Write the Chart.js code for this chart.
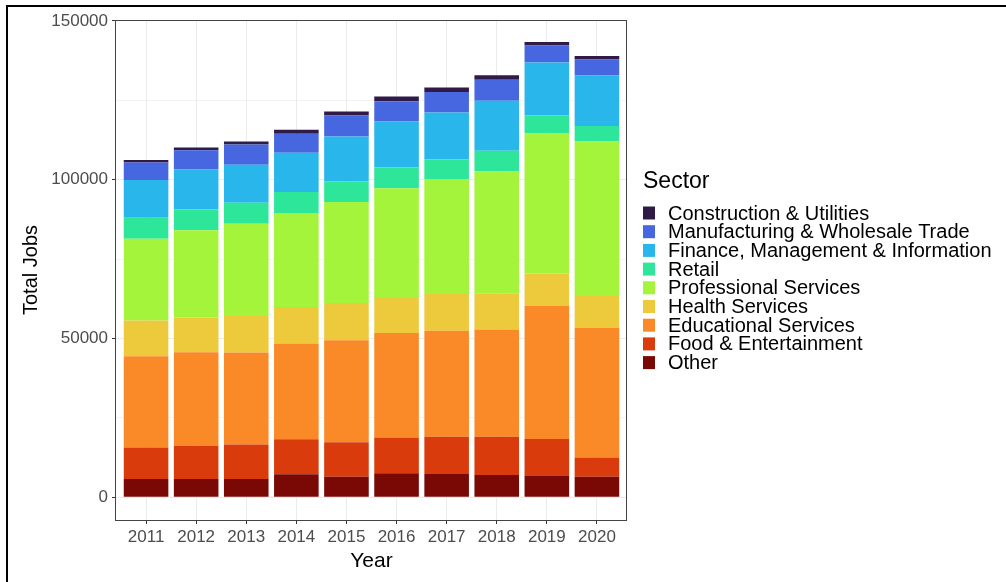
<!DOCTYPE html>
<html>
<head>
<meta charset="utf-8">
<title>Total Jobs by Sector</title>
<script src="https://cdn.jsdelivr.net/npm/chart.js@4.4.1/dist/chart.umd.min.js"></script>
<style>
	html, body { margin: 0; padding: 0; background: #fff; }
	canvas { display: block; }
</style>
</head>
<body>
<canvas id="myChart" width="1006" height="582"></canvas>
<script>
// Years on the x axis
const years = [2011, 2012, 2013, 2014, 2015, 2016, 2017, 2018, 2019, 2020];

// Jobs per sector (bottom of the stack first)
const other = [5750, 5750, 5750, 7250, 6500, 7550, 7350, 7000, 6700, 6500];
const food = [9950, 10500, 10900, 11000, 10800, 11300, 11750, 12050, 11650, 6000];
const educational = [28700, 29400, 28950, 30200, 32150, 32900, 33350, 33750, 41850, 40900];
const health = [11300, 11000, 11500, 11500, 11750, 11300, 11550, 11300, 10300, 9950];
const professional = [25700, 27450, 29050, 29550, 31750, 34300, 36050, 38550, 44050, 48750];
const retail = [6600, 6600, 6600, 6600, 6600, 6600, 6400, 6500, 5750, 4800];
const finance = [11950, 12600, 11950, 12400, 14050, 14450, 14700, 15700, 16600, 15950];
const manufacturing = [5450, 6000, 6400, 6000, 6600, 6300, 6500, 6600, 5350, 5050];
const construction = [850, 850, 950, 1250, 1250, 1500, 1400, 1450, 1150, 1050];

// y axis ticks (labelled ones every 50000, minor grid in between)
const yTicks = [0, 25000, 50000, 75000, 100000, 125000, 150000];

const font = "'Liberation Sans', Arial, sans-serif";

const datasets = [
	{ label: "Other", data: other, backgroundColor: "#7a0805" },
	{ label: "Food & Entertainment", data: food, backgroundColor: "#d93b0c" },
	{ label: "Educational Services", data: educational, backgroundColor: "#fa8a27" },
	{ label: "Health Services", data: health, backgroundColor: "#edc93c" },
	{ label: "Professional Services", data: professional, backgroundColor: "#a3f43a" },
	{ label: "Retail", data: retail, backgroundColor: "#2de69a" },
	{ label: "Finance, Management & Information", data: finance, backgroundColor: "#29b6ea" },
	{ label: "Manufacturing & Wholesale Trade", data: manufacturing, backgroundColor: "#4667e0" },
	{ label: "Construction & Utilities", data: construction, backgroundColor: "#2f1a48" },
];
for (const ds of datasets) {
	ds.borderWidth = 0;
	ds.categoryPercentage = 1;
	ds.barPercentage = 0.89;
}

// legend on the right, top sector first
const sectorLegend = {
	id: "sectorLegend",
	afterDraw(chart) {
		const ctx = chart.ctx;
		ctx.save();
		ctx.textBaseline = "middle";
		ctx.fillStyle = "#000";
		ctx.font = "23px " + font;
		ctx.fillText("Sector", 643, 182);
		ctx.font = "20px " + font;
		const items = chart.data.datasets.slice().reverse();
		items.forEach((ds, i) => {
			const y = 213 + i * 18.7;
			ctx.fillStyle = ds.backgroundColor;
			ctx.fillRect(643, y - 6.5, 12, 13);
			ctx.fillStyle = "#000";
			ctx.fillText(ds.label, 668, y + 1);
		});
		ctx.restore();
	},
};

// panel border and the outer frame of the figure
const frame = {
	id: "frame",
	afterDatasetsDraw(chart) {
		const { left, top, right, bottom } = chart.chartArea;
		const ctx = chart.ctx;
		ctx.save();
		ctx.strokeStyle = "#444";
		ctx.lineWidth = 1;
		ctx.strokeRect(Math.round(left) - 0.5, Math.round(top) + 0.5, right - left, bottom - top);
		ctx.fillStyle = "#000";
		ctx.fillRect(6, 5, 1000, 2);
		ctx.fillRect(6, 5, 2, 577);
		ctx.restore();
	},
};

const ctx = document.getElementById("myChart").getContext("2d");
const myChart = new Chart(ctx, {
	type: "bar",
	data: {
		labels: years,
		datasets: datasets,
	},
	options: {
		responsive: false,
		animation: false,
		layout: { padding: { left: 0, top: 20, right: 379, bottom: 0 } },
		plugins: {
			legend: { display: false },
			tooltip: { enabled: false },
		},
		scales: {
			x: {
				type: "linear",
				stacked: true,
				offset: false,
				min: 2010.4,
				max: 2020.6,
				afterBuildTicks: (scale) => {
					scale.ticks = years.map((v) => ({ value: v }));
				},
				afterFit: (scale) => {
					scale.height = 62;
				},
				grid: {
					offset: false,
					color: "#ebebeb",
					lineWidth: 1,
					tickColor: "#333",
					tickLength: 4,
					drawTicks: true,
				},
				border: { display: false },
				ticks: {
					color: "#4d4d4d",
					font: { family: font, size: 17 },
					padding: 3,
					maxRotation: 0,
					autoSkip: false,
					callback: (v) => String(v),
				},
				title: {
					display: true,
					text: "Year",
					color: "#000",
					font: { family: font, size: 21 },
					padding: { top: 0, bottom: 8 },
				},
			},
			y: {
				stacked: true,
				min: -7150,
				max: 150300,
				afterBuildTicks: (scale) => {
					scale.ticks = yTicks.map((v) => ({ value: v }));
				},
				afterFit: (scale) => {
					scale.width = 116;
				},
				grid: {
					color: "#ebebeb",
					lineWidth: (c) => (c.tick && c.tick.value % 50000 === 0 ? 1 : 0.6),
					tickColor: (c) => (c.tick && c.tick.value % 50000 === 0 ? "#333" : "rgba(0,0,0,0)"),
					tickLength: 4,
					drawTicks: true,
				},
				border: { display: false },
				ticks: {
					color: "#4d4d4d",
					font: { family: font, size: 17 },
					padding: 4,
					autoSkip: false,
					callback: (v) => (v % 50000 === 0 ? String(v) : ""),
				},
				title: {
					display: true,
					text: "Total Jobs",
					color: "#000",
					font: { family: font, size: 20 },
					padding: { top: 19, bottom: 0 },
				},
			},
		},
	},
	plugins: [sectorLegend, frame],
});
</script>
</body>
</html>
